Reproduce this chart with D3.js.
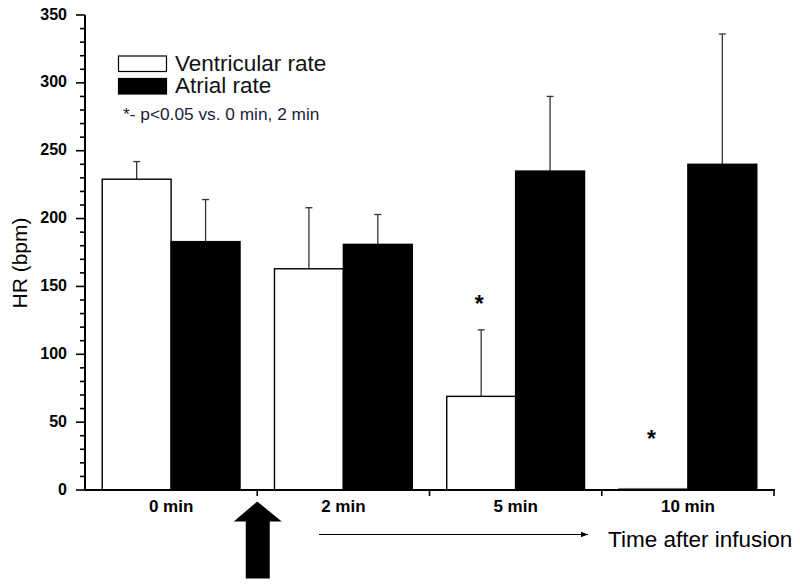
<!DOCTYPE html>
<html>
<head>
<meta charset="utf-8">
<script src="https://cdn.jsdelivr.net/npm/d3@7"></script>
<style>
  html, body { margin: 0; padding: 0; background: #fff; }
  svg { display: block; }
</style>
</head>
<body>
<svg id="chart" width="800" height="584"></svg>
<script>
// ---- data ----
const categories = ["0 min", "2 min", "5 min", "10 min"];
const seriesNames = ["Ventricular rate", "Atrial rate"];
const ventricular = [229, 163, 69, 1];
const ventricularErr = [13, 45, 49, 0];
const atrial = [183, 181, 235, 240];
const atrialErr = [31, 22, 55, 96];
const yTicks = [0, 50, 100, 150, 200, 250, 300, 350];
const asterisks = [{cat: "5 min", y: 139}, {cat: "10 min", y: 40}];
const noteText = "*- p<0.05 vs. 0 min, 2 min";
const yLabel = "HR (bpm)";
const timeLabel = "Time after infusion";

// ---- layout ----
const svg = d3.select("#chart");
const pLeft = 85, pRight = 774, pTop = 15, pBottom = 490;

const x0 = d3.scaleBand().domain(categories).range([pLeft, pRight]).paddingInner(0).paddingOuter(0);
const bw = x0.bandwidth();
const x1 = d3.scaleBand().domain(seriesNames).range([bw * 0.1, bw * 0.9]).padding(0);
const y = d3.scaleLinear().domain([0, 350]).range([pBottom, pTop]);

const rows = categories.map((c, i) => ({
  cat: c,
  bars: [
    {s: seriesNames[0], v: ventricular[i], e: ventricularErr[i], fill: "#ffffff"},
    {s: seriesNames[1], v: atrial[i], e: atrialErr[i], fill: "#000000"}
  ]
}));

// error bars (upper only), drawn before bars
const errG = svg.append("g");
rows.forEach(r => {
  r.bars.forEach(b => {
    if (b.e <= 0) return;
    const cx = x0(r.cat) + x1(b.s) + x1.bandwidth() / 2;
    errG.append("line")
      .attr("x1", cx).attr("x2", cx)
      .attr("y1", y(b.v)).attr("y2", y(b.v + b.e))
      .attr("stroke", "#333").attr("stroke-width", 1.3);
    errG.append("line")
      .attr("x1", cx - 3.5).attr("x2", cx + 3.5)
      .attr("y1", y(b.v + b.e)).attr("y2", y(b.v + b.e))
      .attr("stroke", "#333").attr("stroke-width", 1.3);
  });
});

// bars
const groups = svg.append("g").selectAll("g").data(rows).join("g")
  .attr("transform", d => `translate(${x0(d.cat)},0)`);
groups.selectAll("rect").data(d => d.bars).join("rect")
  .attr("x", d => x1(d.s))
  .attr("width", x1.bandwidth())
  .attr("y", d => y(d.v))
  .attr("height", d => pBottom - y(d.v))
  .attr("fill", d => d.fill)
  .attr("stroke", d => d.v < 3 ? "#777" : "#000")
  .attr("stroke-width", 1.4);

// y axis
const yMinor = d3.range(0, 351, 10);
const yAxisG = svg.append("g").attr("transform", `translate(${pLeft},0)`);
yAxisG.append("line").attr("x1", 0).attr("x2", 0).attr("y1", pTop).attr("y2", pBottom + 1)
  .attr("stroke", "#000").attr("stroke-width", 2);
yAxisG.selectAll("line.minor").data(yMinor).join("line").attr("class", "minor")
  .attr("x1", d => yTicks.includes(d) ? -9 : -5).attr("x2", 0)
  .attr("y1", d => y(d)).attr("y2", d => y(d))
  .attr("stroke", "#000").attr("stroke-width", 1.6);
yAxisG.selectAll("text").data(yTicks).join("text")
  .attr("x", -18).attr("y", d => y(d) - 1).attr("dy", "0.35em")
  .attr("text-anchor", "end")
  .attr("font-family", "Liberation Sans, Arial, sans-serif")
  .attr("font-weight", "bold").attr("font-size", 16)
  .attr("fill", "#000")
  .text(d => d);

// y label
svg.append("text")
  .attr("transform", `translate(27,263) rotate(-90)`)
  .attr("text-anchor", "middle")
  .attr("font-family", "Liberation Sans, Arial, sans-serif")
  .attr("font-size", 21).attr("fill", "#000")
  .text(yLabel);

// x axis
const xAxisG = svg.append("g");
xAxisG.append("line").attr("x1", pLeft).attr("x2", pRight + 1).attr("y1", pBottom).attr("y2", pBottom)
  .attr("stroke", "#000").attr("stroke-width", 2);
xAxisG.selectAll("line.tick").data(categories).join("line").attr("class", "tick")
  .attr("x1", d => x0(d) + bw).attr("x2", d => x0(d) + bw)
  .attr("y1", pBottom).attr("y2", pBottom + 6)
  .attr("stroke", "#000").attr("stroke-width", 1.6);
xAxisG.selectAll("text").data(categories).join("text")
  .attr("x", d => x0(d) + bw / 2).attr("y", 512)
  .attr("text-anchor", "middle")
  .attr("font-family", "Liberation Sans, Arial, sans-serif")
  .attr("font-weight", "bold").attr("font-size", 17)
  .attr("fill", "#000")
  .text(d => d);

// asterisks
svg.selectAll("text.ast").data(asterisks).join("text").attr("class", "ast")
  .attr("x", d => x0(d.cat) + x1(seriesNames[0]) + x1.bandwidth() / 2 - 2)
  .attr("y", d => y(d.y) + 11)
  .attr("text-anchor", "middle")
  .attr("font-family", "Liberation Sans, Arial, sans-serif")
  .attr("font-weight", "bold").attr("font-size", 23)
  .attr("fill", "#000")
  .text("*");

// legend
const leg = svg.append("g");
const legFill = ["#ffffff", "#000000"];
const legY = [56, 78.5];
seriesNames.forEach((s, i) => {
  leg.append("rect").attr("x", 118.5).attr("y", legY[i]).attr("width", 48).attr("height", 15.5)
    .attr("fill", legFill[i]).attr("stroke", "#000").attr("stroke-width", 1.2);
  leg.append("text").attr("x", 175).attr("y", legY[i] + 14.5)
    .attr("font-family", "Liberation Sans, Arial, sans-serif")
    .attr("font-size", 22.5).attr("fill", "#111")
    .text(s);
});
leg.append("text").attr("x", 123).attr("y", 120)
  .attr("font-family", "Liberation Sans, Arial, sans-serif")
  .attr("font-size", 17.3).attr("fill", "#1c1c3a")
  .text(noteText);

// big infusion arrow at boundary between 0 min and 2 min
const ax = x0(categories[1]);
svg.append("path")
  .attr("d", `M${ax},501.5 L${ax + 24.5},521.5 L${ax + 12.5},521.5 L${ax + 12.5},578.5 L${ax - 11.5},578.5 L${ax - 11.5},521.5 L${ax - 23.5},521.5 Z`)
  .attr("fill", "#000");

// thin time arrow
svg.append("defs").append("marker")
  .attr("id", "ah").attr("viewBox", "0 0 10 10").attr("refX", 10).attr("refY", 5)
  .attr("markerWidth", 7).attr("markerHeight", 7).attr("markerUnits", "userSpaceOnUse")
  .attr("orient", "auto")
  .append("path").attr("d", "M0,1 L10,5 L0,9 Z").attr("fill", "#000");
svg.append("line")
  .attr("x1", 319).attr("x2", 588).attr("y1", 534.5).attr("y2", 534.5)
  .attr("stroke", "#000").attr("stroke-width", 1.2)
  .attr("marker-end", "url(#ah)");
svg.append("text")
  .attr("x", 608).attr("y", 547)
  .attr("font-family", "Liberation Sans, Arial, sans-serif")
  .attr("font-size", 22.5).attr("fill", "#000")
  .text(timeLabel);
</script>
</body>
</html>
